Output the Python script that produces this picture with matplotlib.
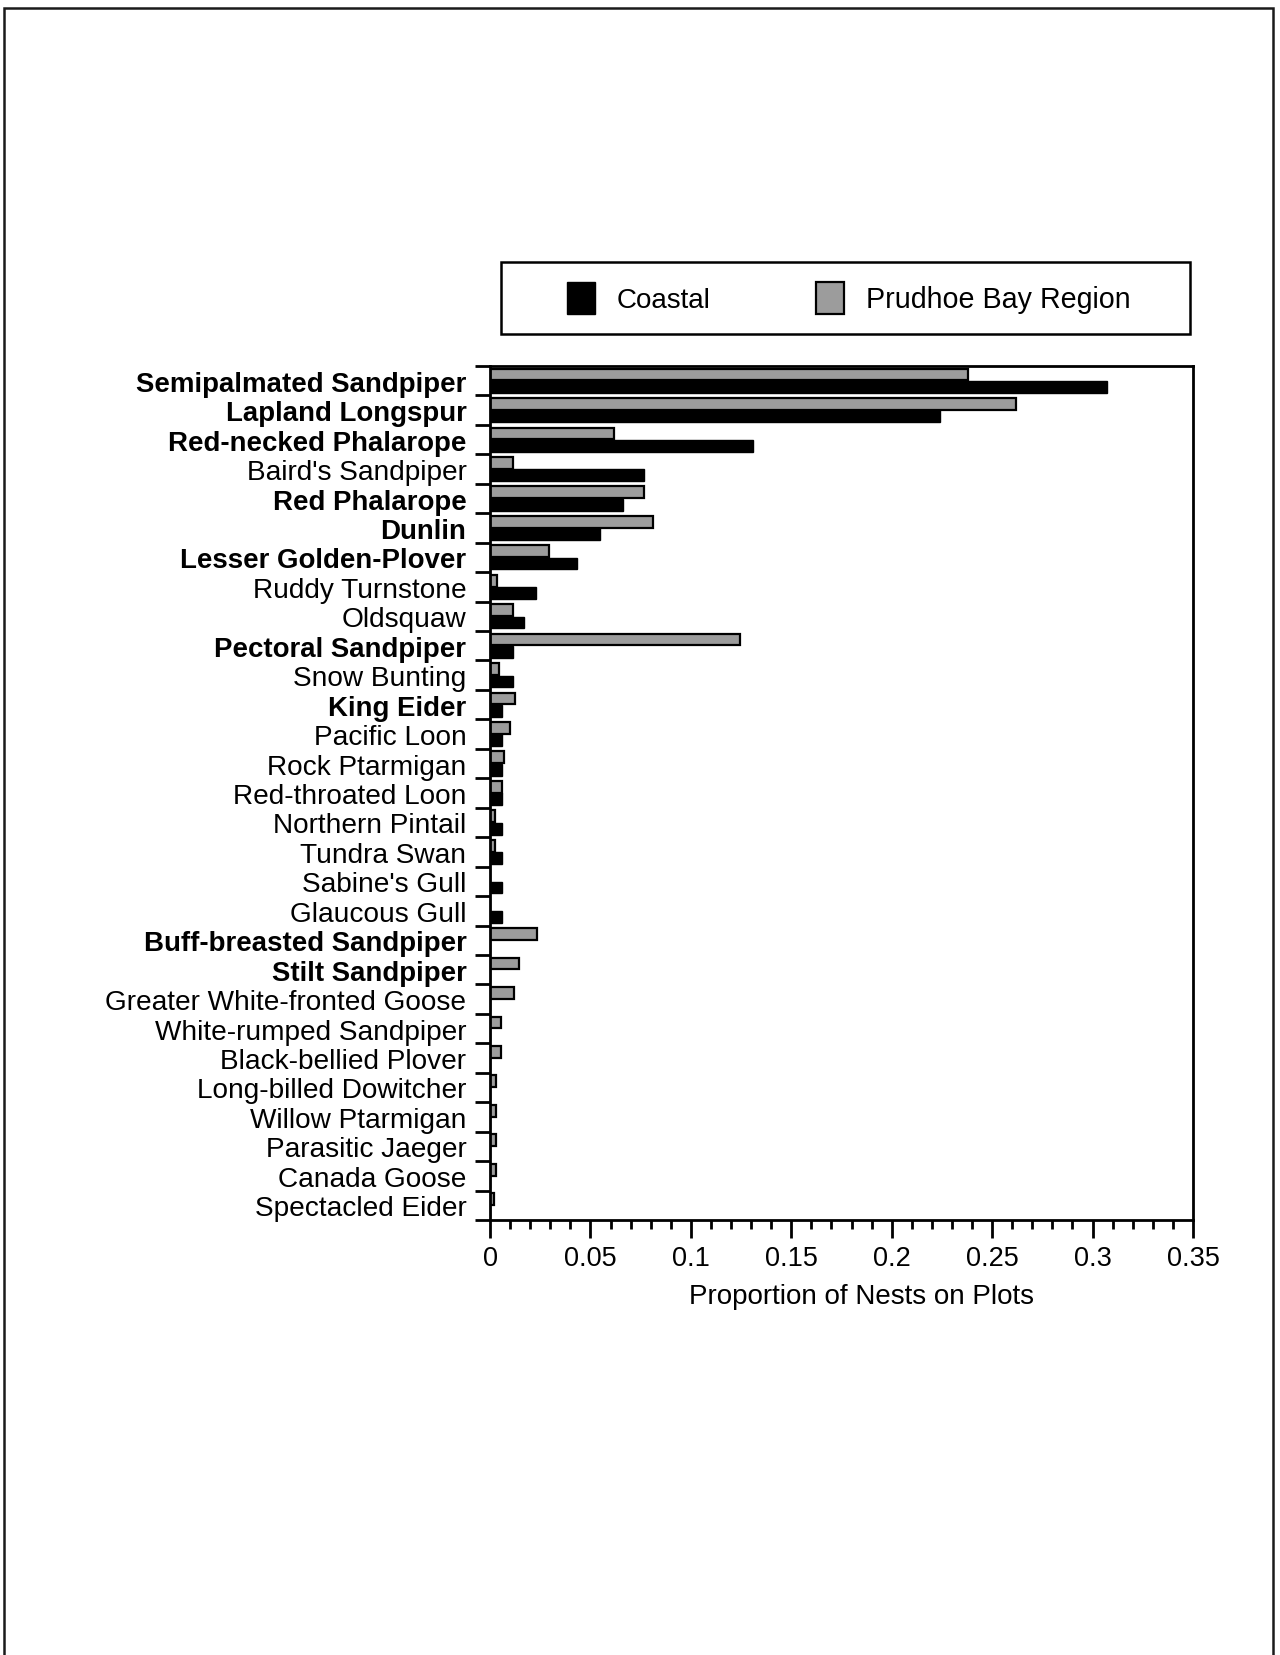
import matplotlib
matplotlib.use("Agg")  # headless, just write the png
import matplotlib.pyplot as plt
from matplotlib.patches import Rectangle
from matplotlib.ticker import FixedLocator, FixedFormatter, MultipleLocator
import numpy as np

# Species in plot order (top to bottom)
species = [
    "Semipalmated Sandpiper", "Lapland Longspur", "Red-necked Phalarope",
    "Baird's Sandpiper", "Red Phalarope", "Dunlin", "Lesser Golden-Plover",
    "Ruddy Turnstone", "Oldsquaw", "Pectoral Sandpiper", "Snow Bunting",
    "King Eider", "Pacific Loon", "Rock Ptarmigan", "Red-throated Loon",
    "Northern Pintail", "Tundra Swan", "Sabine's Gull", "Glaucous Gull",
    "Buff-breasted Sandpiper", "Stilt Sandpiper", "Greater White-fronted Goose",
    "White-rumped Sandpiper", "Black-bellied Plover", "Long-billed Dowitcher",
    "Willow Ptarmigan", "Parasitic Jaeger", "Canada Goose", "Spectacled Eider",
]

# Species set in bold on the axis
bold_species = [
    "Semipalmated Sandpiper", "Lapland Longspur", "Red-necked Phalarope",
    "Red Phalarope", "Dunlin", "Lesser Golden-Plover", "Pectoral Sandpiper",
    "King Eider", "Buff-breasted Sandpiper", "Stilt Sandpiper",
]

# Proportion of nests on plots
coastal = [
    0.307, 0.224, 0.131, 0.0765, 0.066, 0.055, 0.0435, 0.023, 0.017, 0.0115,
    0.0115, 0.006, 0.0058, 0.006, 0.006, 0.006, 0.006, 0.0058, 0.0058,
    0.0, 0.0, 0.0, 0.0, 0.0, 0.0, 0.0, 0.0, 0.0, 0.0,
]
prudhoe = [
    0.238, 0.262, 0.0615, 0.0115, 0.0765, 0.081, 0.0295, 0.0035, 0.0115, 0.1245,
    0.0045, 0.0125, 0.010, 0.007, 0.006, 0.0025, 0.0025, 0.0, 0.0,
    0.0235, 0.0142, 0.012, 0.0055, 0.0055, 0.003, 0.003, 0.003, 0.003, 0.002,
]

xtick_values = [0, 0.05, 0.1, 0.15, 0.2, 0.25, 0.3, 0.35]
xtick_labels = ["0", "0.05", "0.1", "0.15", "0.2", "0.25", "0.3", "0.35"]

plt.rcParams["font.family"] = ["Liberation Sans", "DejaVu Sans"]

W, H = 1280, 1656
fig = plt.figure(figsize=(W / 100, H / 100), dpi=100)

# page frame around the figure
fig.add_artist(Rectangle((4 / W, -0.05), 1269 / W, 1.05 - 9 / H,
                         transform=fig.transFigure, fill=False,
                         edgecolor="#1a1a1a", linewidth=1.8))

ax = fig.add_axes([490 / W, 1 - 1221 / H, 703 / W, 854 / H])

y = np.arange(len(species))
bar_h = 0.40
gray_bars = ax.barh(y - 0.21, prudhoe, height=bar_h, color="#9c9c9c",
                    edgecolor="black", linewidth=1.6, label="Prudhoe Bay Region")
black_bars = ax.barh(y + 0.21, coastal, height=bar_h, color="black",
                     edgecolor="black", linewidth=1.0, label="Coastal")

ax.set_xlim(0, 0.35)
ax.set_ylim(len(species) - 0.5, -0.5)

# y: ticks on category boundaries, labels centred on each pair of bars
ax.yaxis.set_major_locator(FixedLocator(np.arange(len(species) + 1) - 0.5))
ax.yaxis.set_major_formatter(FixedFormatter([""] * (len(species) + 1)))
ax.set_yticks(y, species, minor=True)
ax.tick_params(axis="y", which="major", direction="out", length=11, width=2)
ax.tick_params(axis="y", which="minor", length=0, pad=17, labelsize=20.2)
for lab in ax.get_yticklabels(minor=True):
    if lab.get_text() in bold_species:
        lab.set_fontweight("bold")
        lab.set_fontsize(19.9)

# x: major every 0.05, minor every 0.01
ax.xaxis.set_major_locator(FixedLocator(xtick_values))
ax.xaxis.set_major_formatter(FixedFormatter(xtick_labels))
ax.xaxis.set_minor_locator(MultipleLocator(0.01))
ax.tick_params(axis="x", which="major", direction="out", length=13, width=2,
               labelsize=19.5, pad=5)
ax.tick_params(axis="x", which="minor", direction="out", length=6.5, width=2)
ax.set_xlabel("Proportion of Nests on Plots", fontsize=20, labelpad=9, x=0.528)

for sp in ax.spines.values():
    sp.set_linewidth(2)

# legend above the plot, inside its own box
fig.add_artist(Rectangle((500.5 / W, 1 - 335 / H), 689.5 / W, 72 / H,
                         transform=fig.transFigure, fill=False,
                         edgecolor="black", linewidth=1.8))
ax.legend(handles=[black_bars, gray_bars], labels=["Coastal", "Prudhoe Bay Region"],
          ncol=2, frameon=False, fontsize=20, loc="center left",
          bbox_to_anchor=(567 / W, 1 - 299 / H), bbox_transform=fig.transFigure,
          borderpad=0, borderaxespad=0, handlelength=1.0, handleheight=1.4,
          handletextpad=0.8, columnspacing=3.8)
for txt in ax.get_legend().get_texts()[1:]:
    txt.set_fontsize(20.6)

fig.savefig("out.png", dpi=100, facecolor="white")
